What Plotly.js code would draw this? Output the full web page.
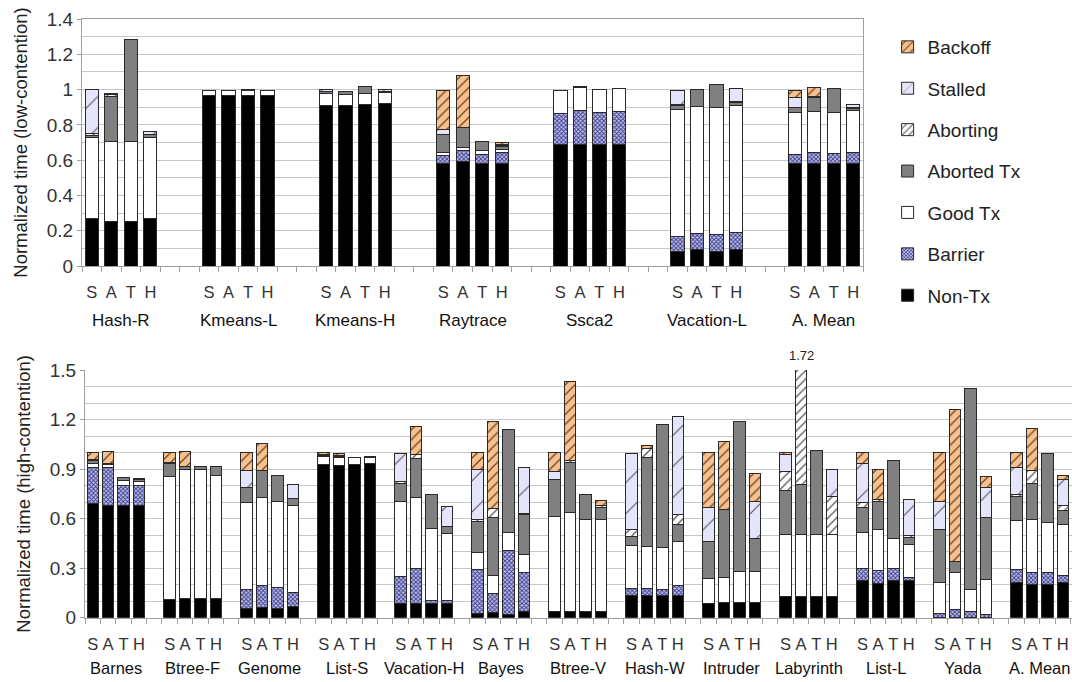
<!DOCTYPE html>
<html>
<head>
<meta charset="utf-8">
<script src="https://cdn.plot.ly/plotly-3.0.1.min.js"></script>
<style>html,body{margin:0;padding:0;background:#fff;}#chart{width:1072px;height:682px;}</style>
</head>
<body>
<div id="chart"></div>
<script>
// ---------- data ----------
const configs = ['S','A','T','H'];
const seriesNames = ['Non-Tx','Barrier','Good Tx','Aborted Tx','Aborting','Stalled','Backoff'];

const lowGroups = ['Hash-R','Kmeans-L','Kmeans-H','Raytrace','Ssca2','Vacation-L','A. Mean'];
const lowNonTx     = [0.27,0.25,0.25,0.27, 0.965,0.965,0.965,0.965, 0.91,0.91,0.916,0.921, 0.579,0.594,0.579,0.579, 0.69,0.69,0.69,0.69, 0.085,0.093,0.085,0.093, 0.583,0.583,0.579,0.583];
const lowBarrier   = [0,0,0,0, 0,0,0,0, 0,0,0,0, 0.049,0.059,0.055,0.062, 0.175,0.193,0.18,0.188, 0.08,0.09,0.093,0.096, 0.049,0.058,0.059,0.06];
const lowGoodTx    = [0.46,0.455,0.455,0.46, 0.03,0.03,0.03,0.03, 0.07,0.062,0.062,0.063, 0.015,0.017,0.019,0.021, 0.132,0.128,0.13,0.128, 0.722,0.719,0.719,0.721, 0.238,0.233,0.232,0.24];
const lowAbortedTx = [0.01,0.255,0.58,0.015, 0,0,0.008,0, 0.01,0.017,0.04,0.005, 0.102,0.113,0.055,0.017, 0,0.005,0,0, 0.025,0.099,0.132,0.015, 0.029,0.079,0.136,0.01];
const lowAborting  = [0.01,0.01,0,0, 0,0,0,0, 0,0,0,0, 0,0,0,0.006, 0,0,0,0, 0.005,0,0,0.005, 0,0,0,0.005];
const lowStalled   = [0.25,0.01,0,0.015, 0,0,0,0, 0.01,0,0,0.012, 0.029,0,0,0.006, 0,0,0,0, 0.08,0,0,0.076, 0.054,0.005,0,0.016];
const lowBackoff   = [0,0,0,0, 0,0,0,0, 0,0,0,0, 0.223,0.297,0,0.007, 0,0,0,0, 0,0,0,0, 0.044,0.054,0,0];

const highGroups = ['Barnes','Btree-F','Genome','List-S','Vacation-H','Bayes','Btree-V','Hash-W','Intruder','Labyrinth','List-L','Yada','A. Mean'];
const highNonTx     = [0.69,0.678,0.678,0.678, 0.113,0.117,0.117,0.117, 0.057,0.061,0.055,0.067, 0.925,0.919,0.929,0.935, 0.083,0.083,0.083,0.083, 0.026,0.03,0.022,0.036, 0.036,0.036,0.036,0.036, 0.133,0.133,0.133,0.133, 0.083,0.091,0.095,0.095, 0.131,0.131,0.131,0.131, 0.224,0.208,0.224,0.224, 0.004,0.004,0.004,0.004, 0.212,0.204,0.204,0.212];
const highBarrier   = [0.22,0.231,0.122,0.122, 0,0,0,0, 0.115,0.131,0.127,0.084, 0,0,0,0, 0.165,0.216,0.024,0.024, 0.263,0.117,0.388,0.239, 0,0,0,0, 0.045,0.045,0.035,0.065, 0,0,0,0, 0,0,0,0, 0.075,0.077,0.075,0.02, 0.022,0.046,0.032,0.018, 0.077,0.071,0.071,0.046];
const highGoodTx    = [0.025,0.016,0.028,0.024, 0.741,0.782,0.782,0.743, 0.527,0.537,0.521,0.531, 0.05,0.052,0.042,0.038, 0.455,0.43,0.434,0.404, 0.107,0.111,0.107,0.109, 0.576,0.602,0.556,0.556, 0.258,0.252,0.258,0.266, 0.155,0.153,0.184,0.184, 0.374,0.374,0.374,0.374, 0.218,0.25,0.182,0.202, 0.188,0.225,0.136,0.21, 0.299,0.321,0.3,0.307];
const highAbortedTx = [0.02,0.01,0.02,0.012, 0.081,0.016,0.016,0.055, 0.088,0.161,0.161,0.041, 0.01,0.008,0,0.004, 0.111,0.236,0.208,0.04, 0.185,0.35,0.624,0.238, 0.222,0.301,0.155,0.076, 0.055,0.541,0.745,0.101, 0.222,0.414,0.912,0.202, 0.268,0.299,0.505,0, 0.151,0.168,0.468,0.041, 0.323,0.064,1.213,0.374, 0.145,0.214,0.42,0.083];
const highAborting  = [0.005,0,0,0.004, 0,0,0,0, 0,0,0,0, 0.005,0.006,0,0, 0.01,0.024,0,0, 0.015,0.054,0,0.01, 0,0.01,0,0.01, 0.044,0.055,0,0.063, 0,0,0,0, 0.111,0.916,0,0.232, 0.029,0.01,0,0.01, 0,0,0,0, 0.016,0.08,0,0.034];
const highStalled   = [0,0,0,0, 0.006,0,0,0, 0.103,0,0,0.081, 0,0,0,0, 0.171,0,0,0.125, 0.302,0,0,0.277, 0.054,0,0,0, 0.46,0,0,0.589, 0.206,0,0,0.222, 0.105,0,0,0.161, 0.238,0,0,0.216, 0.166,0,0,0.183, 0.16,0,0,0.156];
const highBackoff   = [0.04,0.072,0,0, 0.059,0.09,0,0, 0.11,0.166,0,0, 0.01,0.008,0,0, 0,0.168,0,0, 0.102,0.529,0,0, 0.112,0.48,0,0.031, 0,0.016,0,0, 0.334,0.408,0,0.171, 0.011,0,0,0, 0.065,0.185,0,0, 0.297,0.919,0,0.065, 0.091,0.257,0,0.026];

const labyrinthATotal = '1.72';

// ---------- styling ----------
const FONT = 'Liberation Sans, Arial, Helvetica, sans-serif';
const styles = {
  'Non-Tx':     {color:'#000000'},
  'Barrier':    {color:'#a8a8dc', pattern:{shape:'x', fgcolor:'#3a3a8a', bgcolor:'#c0c0ec', size:3, solidity:0.5, fillmode:'replace'}},
  'Good Tx':    {color:'#ffffff'},
  'Aborted Tx': {color:'#808080'},
  'Aborting':   {color:'#ffffff', pattern:{shape:'/', fgcolor:'#555555', bgcolor:'#ffffff', size:6, solidity:0.22, fillmode:'replace'}},
  'Stalled':    {color:'#e4e4fa', pattern:{shape:'/', fgcolor:'#555566', bgcolor:'#e4e4fa', size:22, solidity:0.05, fillmode:'replace'}},
  'Backoff':    {color:'#f7c08c', pattern:{shape:'/', fgcolor:'#6a4422', bgcolor:'#f7c08c', size:7, solidity:0.18, fillmode:'replace'}}
};

const lowSeries  = [lowNonTx, lowBarrier, lowGoodTx, lowAbortedTx, lowAborting, lowStalled, lowBackoff];
const highSeries = [highNonTx, highBarrier, highGoodTx, highAbortedTx, highAborting, highStalled, highBackoff];

const lowSlots = 6, highSlots = 5;
function positions(groups, slots){
  const xs = [];
  groups.forEach((g, gi) => configs.forEach((c, ci) => xs.push(gi*slots + ci)));
  return xs;
}
const lowX = positions(lowGroups, lowSlots);
const highX = positions(highGroups, highSlots);

const traces = [];
seriesNames.forEach((name, si) => {
  const st = styles[name];
  const mk = {color: st.color, line:{color:'#2a2a2a', width:1}};
  if (st.pattern) mk.pattern = st.pattern;
  traces.push({type:'bar', name:name, x:lowX, y:lowSeries[si], xaxis:'x', yaxis:'y',
    width:0.68, marker:mk, legendgroup:name, legendrank:(seriesNames.length - si)*10,
    showlegend:true, hoverinfo:'name+y'});
  traces.push({type:'bar', name:name, x:highX, y:highSeries[si], xaxis:'x2', yaxis:'y2',
    width:0.74, marker:mk, legendgroup:name, legendrank:(seriesNames.length - si)*10,
    showlegend:false, hoverinfo:'name+y'});
});

const tickFont = {family:FONT, size:16.5, color:'#333333'};
const gridColor = '#c6c6c6';

const annotations = [];
lowGroups.forEach((g, gi) => annotations.push({text:g, xref:'x', x:gi*lowSlots+1.5, yref:'paper', y:(682-320)/682,
  yanchor:'middle', xanchor:'center', showarrow:false, font:{family:FONT, size:17, color:'#111'}}));
highGroups.forEach((g, gi) => annotations.push({text:g, xref:'x2', x:gi*highSlots+1.5, yref:'paper', y:(682-668)/682,
  yanchor:'middle', xanchor:'center', showarrow:false, font:{family:FONT, size:16.5, color:'#111'}}));
annotations.push({text:labyrinthATotal, xref:'x2', x:highGroups.indexOf('Labyrinth')*highSlots+1, yref:'paper', y:(682-355)/682,
  yanchor:'middle', xanchor:'center', showarrow:false, font:{family:FONT, size:13, color:'#222'}});

function xax(slots, n, domain, standoff){
  const tv = [], tt = [];
  for (let g=0; g<n; g++) configs.forEach((c, ci) => {tv.push(g*slots+ci); tt.push(c);});
  return {domain:domain, tickmode:'array', tickvals:tv, ticktext:tt, ticks:'', tickfont:tickFont,
    ticklabelstandoff:standoff, showgrid:false, zeroline:false, showline:true, linecolor:'#a0a0a0', linewidth:1,
    minor:{tickmode:'linear', tick0:-0.5, dtick:1, ticks:'outside', ticklen:5, tickcolor:'#a0a0a0', showgrid:false}};
}

const yTickFont = {family:FONT, size:19, color:'#333'};
const yTitleFont = {family:FONT, size:18.5, color:'#222'};

const layout = {
  width:1072, height:682, margin:{l:0, r:0, t:0, b:0},
  paper_bgcolor:'#ffffff', plot_bgcolor:'#ffffff',
  barmode:'stack', font:{family:FONT, color:'#222'},
  xaxis: Object.assign(xax(lowSlots, lowGroups.length, [82/1072, 863/1072], 11), {range:[-0.5, 39.5], mirror:true}),
  yaxis: {domain:[(682-266)/682, (682-19)/682], range:[0,1.4], dtick:0.2, tickfont:yTickFont,
    ticks:'outside', ticklen:4, tickcolor:'#a0a0a0', showline:true, mirror:true, linecolor:'#a0a0a0',
    gridcolor:gridColor, zeroline:false,
    minor:{dtick:0.1, showgrid:true, gridcolor:gridColor, ticks:''},
    title:{text:'Normalized time (low-contention)', font:yTitleFont, standoff:14}},
  xaxis2: Object.assign(xax(highSlots, highGroups.length, [85/1072, 1], 11), {range:[-0.5, 63.6]}),
  yaxis2: {domain:[(682-617.7)/682, (682-370)/682], range:[0,1.5], dtick:0.3, tickfont:yTickFont,
    ticks:'outside', ticklen:4, tickcolor:'#a0a0a0', showline:true, linecolor:'#a0a0a0',
    gridcolor:gridColor, zeroline:false, anchor:'x2',
    minor:{dtick:0.1, showgrid:true, gridcolor:gridColor, ticks:''},
    title:{text:'Normalized time (high-contention)', font:yTitleFont, standoff:14}},
  legend:{x:0.828, xanchor:'left', y:1-28/682, yanchor:'top', traceorder:'grouped', tracegroupgap:13.7,
    font:{family:FONT, size:19, color:'#222'}, bgcolor:'rgba(0,0,0,0)'},
  annotations:annotations,
  showlegend:true
};
layout.xaxis2.anchor = 'y2';
layout.xaxis.anchor = 'y';

Plotly.newPlot('chart', traces, layout, {displayModeBar:false, staticPlot:true});
</script>
</body>
</html>
